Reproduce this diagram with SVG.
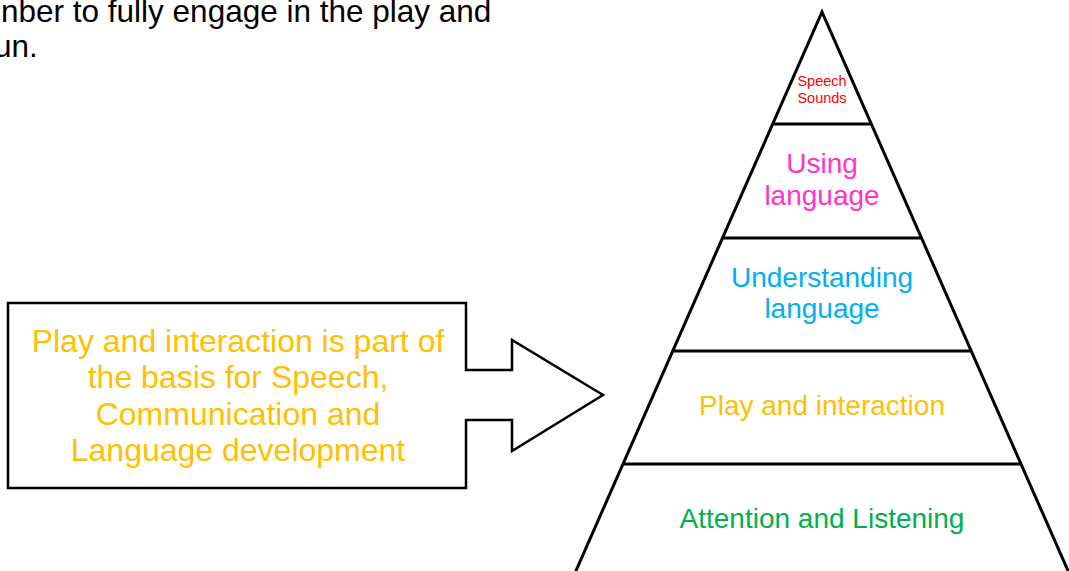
<svg xmlns="http://www.w3.org/2000/svg" width="1069" height="571" viewBox="0 0 1069 571">
<style>
text{font-family:"Liberation Sans",Arial,sans-serif}
.body{font-size:31.5px;fill:#000}
.lvl{font-size:28px;text-anchor:middle}
.call{font-size:32px;text-anchor:middle;fill:#FFC000}
.shape{fill:#fff;stroke:#000;stroke-width:2.5;stroke-linejoin:miter}
.tier{stroke:#000;stroke-width:3;fill:none}
</style>
<rect width="1069" height="571" fill="#fff"/>
<g id="intro-text">
<text class="body" x="1" y="22">nber to fully engage in the play and</text>
<text class="body" x="-6" y="57">un.</text>
</g>
<g id="callout">
<path class="shape" d="M8,303 H466 V370 H512 V340 L603,395 L512,451 V420 H466 V488 H8 Z"/>
<text class="call" x="238" y="352">Play and interaction is part of</text>
<text class="call" x="238" y="388">the basis for Speech,</text>
<text class="call" x="238" y="425">Communication and</text>
<text class="call" x="238" y="461">Language development</text>
</g>
<g id="pyramid">
<path class="tier" d="M575,573 L822,12 L1069,573"/>
</g>
<g id="connectors">
<line class="tier" x1="772" y1="124" x2="872" y2="124"/>
<line class="tier" x1="722" y1="238" x2="922" y2="238"/>
<line class="tier" x1="672" y1="351" x2="972" y2="351"/>
<line class="tier" x1="622" y1="464" x2="1022" y2="464"/>
</g>
<g id="speech-sounds">
<text x="822" y="86" text-anchor="middle" font-size="14.5" fill="#FF0000">Speech</text>
<text x="822" y="103" text-anchor="middle" font-size="14.5" fill="#FF0000">Sounds</text>
</g>
<g id="using-language">
<text class="lvl" x="822" y="173" fill="#FF33CC">Using</text>
<text class="lvl" x="822" y="205" fill="#FF33CC">language</text>
</g>
<g id="understanding-language">
<text class="lvl" x="822" y="287" fill="#00B0F0">Understanding</text>
<text class="lvl" x="822" y="318" fill="#00B0F0">language</text>
</g>
<g id="play-interaction">
<text class="lvl" x="822" y="415" fill="#FFC000">Play and interaction</text>
</g>
<g id="attention-listening">
<text class="lvl" x="822" y="528" fill="#00B050">Attention and Listening</text>
</g>
</svg>
